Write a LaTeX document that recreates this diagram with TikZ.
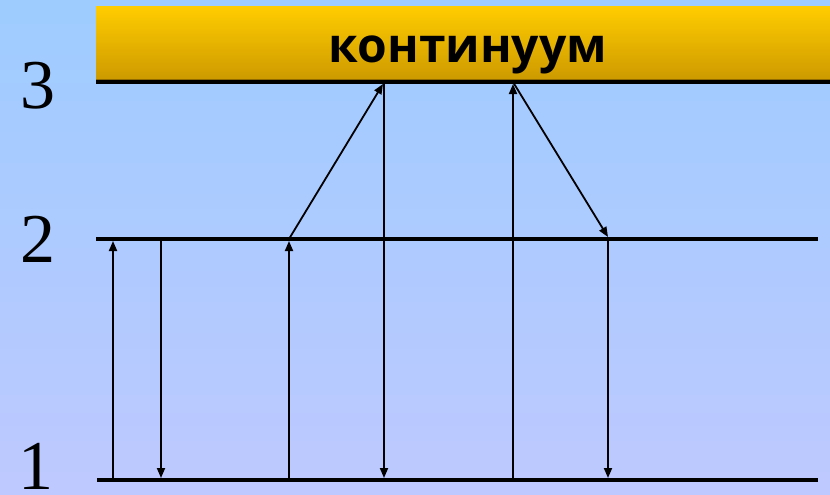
\documentclass[tikz,border=0pt]{standalone}
\usepackage{fontspec}
\setmainfont{Liberation Serif}
\newfontfamily\labfont{Open Sans}
\usetikzlibrary{arrows.meta}
\definecolor{bgtop}{RGB}{158,204,255}
\definecolor{bgbot}{RGB}{190,201,255}
\definecolor{bartop}{RGB}{255,204,0}
\definecolor{barbot}{RGB}{204,153,0}
\tikzset{
  level/.style={line width=4pt},
  trans/.style={line width=1.8pt,-{Triangle[length=10pt,width=8pt]}},
  lvlnum/.style={anchor=base,font=\fontsize{70}{70}\selectfont,inner sep=0pt},
}
\begin{document}
\begin{tikzpicture}[x=1pt,y=-1pt]
\useasboundingbox (0,0) rectangle (830,495);
\shade[top color=bgtop,bottom color=bgbot] (0,0) rectangle (830,495);
\shade[top color=bartop,bottom color=barbot] (96,7) rectangle (830,81);
\node[font=\labfont\bfseries\fontsize{48}{48}\selectfont,inner sep=0pt,anchor=base] (cont) at (468,63) {континуум};
% level lines
\coordinate (L3a) at (96,82);  \coordinate (L3b) at (830,82);
\coordinate (L2a) at (96,239); \coordinate (L2b) at (818,239);
\coordinate (L1a) at (97,480); \coordinate (L1b) at (818,480);
\draw[barbot!70!black,line width=1pt] (96,80) -- (830,80);
\draw[level] (L3a) -- (L3b);
\draw[level] (L2a) -- (L2b);
\draw[level] (L1a) -- (L1b);
% labels
\node[lvlnum] (n3) at (38,108) {3};
\node[lvlnum] (n2) at (38,262) {2};
\node[lvlnum] (n1) at (36,489) {1};
% transition endpoints
\coordinate (a1b) at (113,480); \coordinate (a1t) at (113,241);
\coordinate (a2t) at (161,239); \coordinate (a2b) at (161,478);
\coordinate (a3b) at (289,480); \coordinate (a3t) at (289,241);
\coordinate (a4s) at (289,239); \coordinate (a4e) at (383,84);
\coordinate (a5t) at (384,82);  \coordinate (a5b) at (384,478);
\coordinate (a6b) at (513,480); \coordinate (a6t) at (513,84);
\coordinate (a7s) at (513,82);  \coordinate (a7e) at (608,237);
\coordinate (a8t) at (608,239); \coordinate (a8b) at (608,478);
\draw[trans] (a1b) -- (a1t);
\draw[trans] (a2t) -- (a2b);
\draw[trans] (a3b) -- (a3t);
\draw[trans] (a4s) -- (a4e);
\draw[trans] (a5t) -- (a5b);
\draw[trans] (a6b) -- (a6t);
\draw[trans] (a7s) -- (a7e);
\draw[trans] (a8t) -- (a8b);
\end{tikzpicture}
\end{document}
